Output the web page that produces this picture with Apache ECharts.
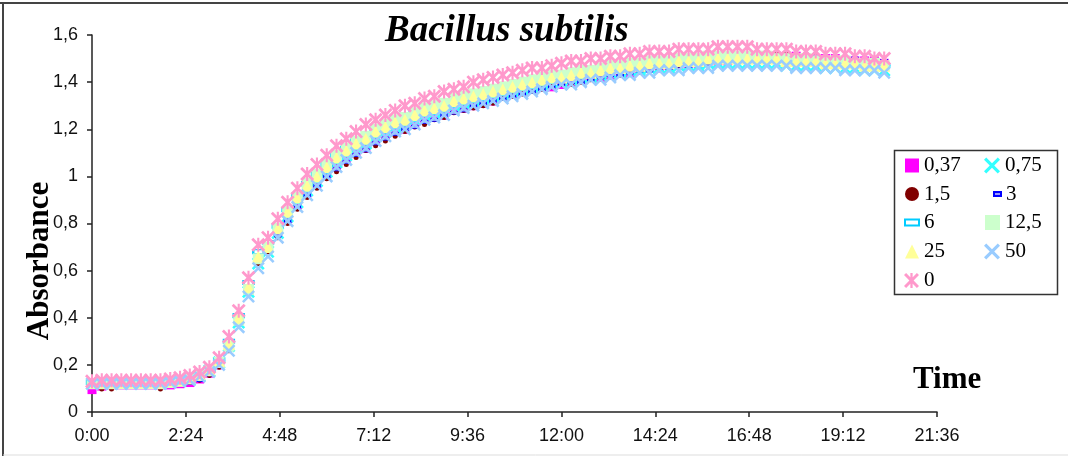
<!DOCTYPE html>
<html>
<head>
<meta charset="utf-8">
<script src="https://cdn.jsdelivr.net/npm/echarts@6/dist/echarts.min.js"></script>
<style>
  html, body { margin: 0; padding: 0; background: #fff; }
  #chart { width: 1068px; height: 456px; }
</style>
</head>
<body>
<div id="chart"></div>
<script>
// Sampling times (minutes since inoculation), every 15 min
const minutes = [
  0, 15, 30, 45, 60, 75, 90, 105, 120, 135,
  150, 165, 180, 195, 210, 225, 240, 255, 270, 285,
  300, 315, 330, 345, 360, 375, 390, 405, 420, 435,
  450, 465, 480, 495, 510, 525, 540, 555, 570, 585,
  600, 615, 630, 645, 660, 675, 690, 705, 720, 735,
  750, 765, 780, 795, 810, 825, 840, 855, 870, 885,
  900, 915, 930, 945, 960, 975, 990, 1005, 1020, 1035,
  1050, 1065, 1080, 1095, 1110, 1125, 1140, 1155, 1170, 1185,
  1200, 1215
];

// Absorbance readings per concentration
const abs037 = [
  0.095, 0.11, 0.115, 0.115, 0.115, 0.115, 0.115, 0.115, 0.115, 0.12,
  0.125, 0.14, 0.165, 0.20, 0.28, 0.39, 0.53, 0.67, 0.70, 0.76,
  0.82, 0.88, 0.93, 0.97, 1.01, 1.04, 1.07, 1.10, 1.12, 1.15,
  1.17, 1.19, 1.20, 1.22, 1.24, 1.25, 1.26, 1.28, 1.29, 1.30,
  1.31, 1.32, 1.34, 1.35, 1.36, 1.37, 1.38, 1.38, 1.39, 1.40,
  1.41, 1.42, 1.42, 1.43, 1.44, 1.44, 1.45, 1.46, 1.46, 1.47,
  1.47, 1.48, 1.48, 1.49, 1.49, 1.49, 1.50, 1.50, 1.50, 1.50,
  1.51, 1.51, 1.51, 1.50, 1.50, 1.50, 1.50, 1.49, 1.49, 1.49,
  1.49, 1.48
];
const abs075 = [
  0.12, 0.12, 0.12, 0.12, 0.12, 0.12, 0.12, 0.12, 0.125, 0.13,
  0.14, 0.155, 0.175, 0.21, 0.28, 0.38, 0.51, 0.63, 0.68, 0.76,
  0.83, 0.89, 0.94, 0.98, 1.02, 1.06, 1.09, 1.12, 1.14, 1.17,
  1.19, 1.21, 1.22, 1.24, 1.26, 1.27, 1.28, 1.30, 1.31, 1.32,
  1.33, 1.34, 1.35, 1.36, 1.37, 1.38, 1.39, 1.40, 1.40, 1.41,
  1.42, 1.42, 1.43, 1.44, 1.44, 1.45, 1.45, 1.46, 1.46, 1.46,
  1.47, 1.47, 1.47, 1.48, 1.48, 1.48, 1.48, 1.48, 1.48, 1.48,
  1.48, 1.47, 1.47, 1.47, 1.47, 1.46, 1.46, 1.46, 1.46, 1.45,
  1.45, 1.45
];
const abs15 = [
  0.115, 0.098, 0.098, 0.115, 0.115, 0.115, 0.115, 0.098, 0.115, 0.12,
  0.125, 0.135, 0.155, 0.19, 0.26, 0.37, 0.50, 0.63, 0.68, 0.74,
  0.80, 0.86, 0.91, 0.95, 0.99, 1.02, 1.05, 1.08, 1.11, 1.13,
  1.15, 1.17, 1.19, 1.21, 1.22, 1.24, 1.25, 1.27, 1.28, 1.29,
  1.30, 1.31, 1.33, 1.34, 1.35, 1.36, 1.37, 1.38, 1.39, 1.39,
  1.40, 1.41, 1.42, 1.43, 1.43, 1.44, 1.45, 1.45, 1.46, 1.47,
  1.47, 1.48, 1.48, 1.49, 1.49, 1.50, 1.50, 1.51, 1.51, 1.52,
  1.52, 1.52, 1.52, 1.52, 1.52, 1.51, 1.51, 1.51, 1.50, 1.50,
  1.50, 1.49
];
const abs3 = [
  0.115, 0.115, 0.115, 0.115, 0.115, 0.115, 0.115, 0.115, 0.115, 0.12,
  0.125, 0.135, 0.16, 0.195, 0.27, 0.38, 0.51, 0.64, 0.69, 0.75,
  0.81, 0.87, 0.92, 0.96, 1.00, 1.03, 1.06, 1.09, 1.11, 1.14,
  1.16, 1.18, 1.20, 1.21, 1.23, 1.24, 1.26, 1.27, 1.28, 1.30,
  1.31, 1.32, 1.33, 1.34, 1.35, 1.36, 1.37, 1.38, 1.39, 1.40,
  1.40, 1.41, 1.42, 1.43, 1.43, 1.44, 1.45, 1.45, 1.46, 1.46,
  1.47, 1.47, 1.48, 1.48, 1.49, 1.49, 1.50, 1.50, 1.50, 1.51,
  1.51, 1.51, 1.51, 1.51, 1.51, 1.50, 1.50, 1.50, 1.50, 1.49,
  1.49, 1.49
];
const abs6 = [
  0.125, 0.125, 0.125, 0.125, 0.125, 0.125, 0.125, 0.125, 0.13, 0.135,
  0.145, 0.16, 0.18, 0.22, 0.30, 0.41, 0.55, 0.68, 0.72, 0.79,
  0.86, 0.92, 0.97, 1.01, 1.05, 1.09, 1.12, 1.15, 1.17, 1.20,
  1.22, 1.24, 1.25, 1.27, 1.28, 1.30, 1.31, 1.32, 1.34, 1.35,
  1.36, 1.37, 1.38, 1.39, 1.40, 1.41, 1.42, 1.42, 1.43, 1.44,
  1.44, 1.45, 1.46, 1.46, 1.47, 1.47, 1.48, 1.48, 1.49, 1.49,
  1.49, 1.50, 1.50, 1.50, 1.50, 1.51, 1.51, 1.51, 1.51, 1.50,
  1.50, 1.50, 1.50, 1.49, 1.49, 1.49, 1.49, 1.48, 1.48, 1.48,
  1.47, 1.47
];
const abs125 = [
  0.12, 0.12, 0.12, 0.12, 0.12, 0.12, 0.12, 0.12, 0.125, 0.13,
  0.14, 0.155, 0.175, 0.21, 0.28, 0.39, 0.52, 0.65, 0.70, 0.78,
  0.85, 0.91, 0.97, 1.01, 1.05, 1.09, 1.12, 1.15, 1.17, 1.20,
  1.22, 1.24, 1.25, 1.27, 1.29, 1.30, 1.31, 1.33, 1.34, 1.35,
  1.36, 1.37, 1.38, 1.39, 1.40, 1.41, 1.42, 1.43, 1.43, 1.44,
  1.45, 1.45, 1.46, 1.47, 1.47, 1.48, 1.48, 1.49, 1.49, 1.49,
  1.50, 1.50, 1.50, 1.51, 1.51, 1.51, 1.51, 1.51, 1.51, 1.51,
  1.50, 1.50, 1.50, 1.50, 1.49, 1.49, 1.49, 1.49, 1.48, 1.48,
  1.48, 1.47
];
const abs25 = [
  0.125, 0.125, 0.125, 0.125, 0.125, 0.125, 0.125, 0.125, 0.13, 0.135,
  0.145, 0.16, 0.18, 0.215, 0.29, 0.40, 0.53, 0.66, 0.70, 0.78,
  0.85, 0.91, 0.96, 1.00, 1.04, 1.08, 1.11, 1.14, 1.16, 1.19,
  1.21, 1.23, 1.24, 1.26, 1.28, 1.29, 1.30, 1.32, 1.33, 1.34,
  1.35, 1.36, 1.37, 1.38, 1.39, 1.40, 1.41, 1.42, 1.42, 1.43,
  1.44, 1.44, 1.45, 1.46, 1.46, 1.47, 1.47, 1.48, 1.48, 1.48,
  1.49, 1.49, 1.49, 1.50, 1.50, 1.50, 1.50, 1.50, 1.50, 1.50,
  1.50, 1.49, 1.49, 1.49, 1.49, 1.48, 1.48, 1.48, 1.48, 1.47,
  1.47, 1.47
];
const abs50 = [
  0.12, 0.12, 0.12, 0.12, 0.12, 0.12, 0.12, 0.12, 0.125, 0.13,
  0.135, 0.15, 0.17, 0.20, 0.26, 0.36, 0.49, 0.61, 0.66, 0.74,
  0.81, 0.87, 0.92, 0.96, 1.00, 1.04, 1.07, 1.10, 1.12, 1.15,
  1.17, 1.19, 1.20, 1.22, 1.24, 1.25, 1.26, 1.28, 1.29, 1.30,
  1.31, 1.32, 1.33, 1.34, 1.35, 1.36, 1.37, 1.38, 1.39, 1.39,
  1.40, 1.41, 1.41, 1.42, 1.43, 1.43, 1.44, 1.44, 1.45, 1.45,
  1.45, 1.46, 1.46, 1.46, 1.47, 1.47, 1.47, 1.47, 1.47, 1.47,
  1.47, 1.47, 1.46, 1.46, 1.46, 1.46, 1.46, 1.45, 1.45, 1.45,
  1.45, 1.44
];
const abs0 = [
  0.13, 0.135, 0.135, 0.135, 0.135, 0.135, 0.135, 0.135, 0.14, 0.145,
  0.155, 0.17, 0.19, 0.23, 0.32, 0.43, 0.57, 0.71, 0.74, 0.82,
  0.89, 0.95, 1.01, 1.05, 1.09, 1.13, 1.16, 1.19, 1.22, 1.24,
  1.26, 1.28, 1.30, 1.31, 1.33, 1.34, 1.36, 1.37, 1.38, 1.40,
  1.41, 1.42, 1.43, 1.44, 1.45, 1.46, 1.46, 1.47, 1.48, 1.49,
  1.49, 1.50, 1.50, 1.51, 1.51, 1.52, 1.52, 1.53, 1.53, 1.53,
  1.54, 1.54, 1.54, 1.54, 1.55, 1.55, 1.55, 1.55, 1.54, 1.54,
  1.54, 1.54, 1.53, 1.53, 1.53, 1.52, 1.52, 1.52, 1.51, 1.51,
  1.50, 1.50
];

// Axis ranges (x in minutes, shown as h:mm)
const xMax = 1296;
const xStep = 144;
const yMax = 1.6;
const yStep = 0.2;

const SERIF = "'Liberation Serif', 'Times New Roman', serif";
const SANS = "'Liberation Sans', Arial, sans-serif";

// Marker shapes
const CROSS = 'path://M0,1.4 L1.4,0 L5,3.6 L8.6,0 L10,1.4 L6.4,5 L10,8.6 L8.6,10 L5,6.4 L1.4,10 L0,8.6 L3.6,5 Z';
const STAR = 'path://M0,1.4 L1.4,0 L5,3.6 L8.6,0 L10,1.4 L6.4,5 L10,8.6 L8.6,10 L5,6.4 L1.4,10 L0,8.6 L3.6,5 Z M4.25,0 L5.75,0 L5.75,10 L4.25,10 Z';

const seriesDefs = [
  { name: '0,37', values: abs037, symbol: 'rect', size: 9, style: { color: '#FF00FF' },
    legend: { icon: 'rect', w: 14, h: 14, left: 905, row: 0 } },
  { name: '0,75', values: abs075, symbol: CROSS, size: 13, style: { color: '#33FFFF' },
    legend: { icon: CROSS, w: 16, h: 16, left: 984, row: 0 } },
  { name: '1,5', values: abs15, symbol: 'circle', size: 5, style: { color: '#800000' },
    legend: { icon: 'circle', w: 14, h: 14, left: 905, row: 1 } },
  { name: '3', values: abs3, symbol: 'rect', size: [6, 3], style: { color: '#9999FF', borderColor: '#0000FF', borderWidth: 1 },
    legend: { icon: 'rect', w: 7, h: 4, left: 993, row: 1 } },
  { name: '6', values: abs6, symbol: 'rect', size: [10, 4], style: { color: '#FFFFFF', borderColor: '#00CCFF', borderWidth: 1.5 },
    legend: { icon: 'rect', w: 14, h: 6, left: 904, row: 2 } },
  { name: '12,5', values: abs125, symbol: 'rect', size: 11, style: { color: '#CCFFCC' },
    legend: { icon: 'rect', w: 15, h: 15, left: 985, row: 2 } },
  { name: '25', values: abs25, symbol: 'triangle', size: 12, style: { color: '#FFFF99' },
    legend: { icon: 'triangle', w: 14, h: 14, left: 905, row: 3 } },
  { name: '50', values: abs50, symbol: CROSS, size: 13, style: { color: '#99CCFF' },
    legend: { icon: CROSS, w: 16, h: 16, left: 984, row: 3 } },
  { name: '0', values: abs0, symbol: STAR, size: 14, style: { color: '#FF99CC' },
    legend: { icon: STAR, w: 15, h: 15, left: 904, row: 4 } }
];

const legendRowsY = [165, 193.5, 222, 251, 280];

function fmtTime(v) {
  const m = Math.round(v);
  const h = Math.floor(m / 60);
  const mm = m % 60;
  return h + ':' + (mm < 10 ? '0' : '') + mm;
}
function fmtAbs(v) {
  return String(Math.round(v * 10) / 10).replace('.', ',');
}

const chart = echarts.init(document.getElementById('chart'), null, { renderer: 'canvas' });

chart.setOption({
  animation: false,
  backgroundColor: '#ffffff',
  title: {
    text: 'Bacillus subtilis',
    left: 385,
    top: 13,
    padding: 0,
    textStyle: { fontFamily: SERIF, fontStyle: 'italic', fontWeight: 'bold', fontSize: 37, color: '#000' }
  },
  grid: { left: 92, right: 131, top: 35, bottom: 44, containLabel: false },
  xAxis: {
    type: 'value',
    min: 0,
    max: xMax,
    interval: xStep,
    splitLine: { show: false },
    axisLine: { show: true, onZero: false, lineStyle: { color: '#222', width: 1.5 } },
    axisTick: { show: true, inside: false, length: 5, lineStyle: { color: '#222', width: 1.5 } },
    axisLabel: { formatter: fmtTime, margin: 15, fontFamily: SANS, fontSize: 18, color: '#111' }
  },
  yAxis: {
    type: 'value',
    min: 0,
    max: yMax,
    interval: yStep,
    splitLine: { show: false },
    axisLine: { show: true, onZero: false, lineStyle: { color: '#222', width: 1.5 } },
    axisTick: { show: true, inside: false, length: 5, lineStyle: { color: '#222', width: 1.5 } },
    axisLabel: { formatter: fmtAbs, margin: 14, fontFamily: SANS, fontSize: 18, color: '#111' }
  },
  legend: seriesDefs.map(function (d) {
    const lg = d.legend;
    return {
      data: [{ name: d.name, icon: lg.icon }],
      orient: 'vertical',
      left: lg.left,
      top: legendRowsY[lg.row] - 10,
      padding: 0,
      itemWidth: lg.w,
      itemHeight: lg.h,
      textStyle: { fontFamily: SERIF, fontSize: 21, lineHeight: 20, color: '#000' }
    };
  }),
  graphic: [
    // figure frame
    { type: 'line', shape: { x1: 0, y1: 3, x2: 1068, y2: 3 }, style: { stroke: '#444', lineWidth: 2 }, silent: true },
    { type: 'line', shape: { x1: 3, y1: 3, x2: 3, y2: 456 }, style: { stroke: '#444', lineWidth: 2 }, silent: true },
    { type: 'line', shape: { x1: 3, y1: 455, x2: 1068, y2: 455 }, style: { stroke: '#dddddd', lineWidth: 1 }, silent: true },
    // legend box
    { type: 'rect', shape: { x: 894.5, y: 150.5, width: 163, height: 144 }, style: { fill: 'none', stroke: '#333', lineWidth: 1.5 }, silent: true, z: 5 },
    // axis titles
    { type: 'text', left: 913, top: 364, silent: true,
      style: { text: 'Time', font: 'bold 31px ' + SERIF, fill: '#000' } },
    { type: 'text', x: 40, y: 261, rotation: Math.PI / 2, silent: true,
      style: { text: 'Absorbance', font: 'bold 31px ' + SERIF, fill: '#000', align: 'center', verticalAlign: 'middle' } }
  ],
  series: seriesDefs.map(function (d) {
    return {
      name: d.name,
      type: 'scatter',
      symbol: d.symbol,
      symbolSize: d.size,
      itemStyle: Object.assign({ opacity: 1 }, d.style),
      emphasis: { disabled: true },
      data: minutes.map(function (m, i) { return [m, d.values[i]]; })
    };
  })
});
</script>
</body>
</html>
